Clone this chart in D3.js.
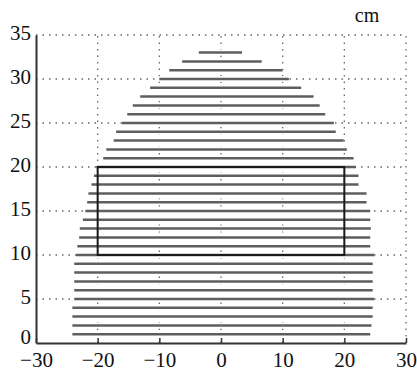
<!DOCTYPE html>
<html>
<head>
<meta charset="utf-8">
<script src="https://cdn.jsdelivr.net/npm/d3@7"></script>
<style>
  body { margin: 0; background: #fff; }
  svg { display: block; }
  svg text { font-family: "Liberation Serif", "Times New Roman", "DejaVu Serif", serif; }
</style>
</head>
<body>
<div id="chart"></div>
<script>
// row heights (cm) of the scan lines
const rows = [1, 2, 3, 4, 5, 6, 7, 8, 9, 10, 11, 12, 13, 14, 15, 16, 17,
  18, 19, 20, 21, 22, 23, 24, 25, 26, 27, 28, 29, 30, 31, 32, 33];
// left and right ends of each row (cm)
const leftEnds = [-24.1, -24.1, -24.1, -24.1, -23.8, -23.8, -23.8, -23.8, -23.8, -23.5,
  -23.3, -23.0, -22.9, -22.4, -22.0, -21.7, -21.5, -21.0, -20.6, -20.2, -19.1, -18.6,
  -17.4, -17.0, -16.1, -15.2, -14.3, -13.1, -11.5, -10.0, -8.4, -6.3, -3.6];
const rightEnds = [24.2, 24.4, 24.6, 24.6, 24.9, 24.6, 24.6, 24.6, 24.6, 24.9,
  24.2, 24.2, 24.3, 24.2, 24.2, 23.6, 23.6, 22.3, 22.3, 21.9, 21.5, 20.4,
  19.9, 18.6, 18.3, 16.9, 16.0, 15.0, 13.0, 11.0, 10.0, 6.6, 3.4];
// rectangle corners (cm)
const boxX = [-20, 20];
const boxY = [10, 20];
const xTicks = [-30, -20, -10, 0, 10, 20, 30];
const yTicks = [0, 5, 10, 15, 20, 25, 30, 35];
const unitLabel = "cm";

const width = 417, height = 372;
const margin = {top: 35, right: 11, bottom: 29, left: 36};
const serif = "'Liberation Serif', 'Times New Roman', 'DejaVu Serif', serif";

const svg = d3.select("#chart").append("svg")
  .attr("width", width)
  .attr("height", height)
  .attr("font-family", serif);

const x = d3.scaleLinear().domain([-30, 30]).range([margin.left, width - margin.right]);
const y = d3.scaleLinear().domain([0, 35]).range([height - margin.bottom, margin.top]);

const dotted = "1.5,5";
const gridColor = "#666";

// dotted grid
svg.append("g")
  .selectAll("line.vgrid")
  .data(xTicks.filter(d => d > -30))
  .enter()
  .append("line")
  .attr("x1", d => x(d)).attr("x2", d => x(d))
  .attr("y1", y(0)).attr("y2", y(35))
  .attr("stroke", gridColor)
  .attr("stroke-width", 1.3)
  .attr("stroke-dasharray", dotted);

svg.append("g")
  .selectAll("line.hgrid")
  .data(yTicks.filter(d => d > 0))
  .enter()
  .append("line")
  .attr("x1", x(-30)).attr("x2", x(30))
  .attr("y1", d => y(d)).attr("y2", d => y(d))
  .attr("stroke", gridColor)
  .attr("stroke-width", 1.3)
  .attr("stroke-dasharray", dotted);

// white mask behind rows so grid does not show through
svg.append("g")
  .selectAll("line")
  .data(rows)
  .enter()
  .append("line")
  .attr("x1", (d, i) => x(leftEnds[i]))
  .attr("x2", (d, i) => x(rightEnds[i]))
  .attr("y1", d => y(d)).attr("y2", d => y(d))
  .attr("stroke", "#fff")
  .attr("stroke-width", 6);

// scan rows
svg.append("g")
  .selectAll("line")
  .data(rows)
  .enter()
  .append("line")
  .attr("x1", (d, i) => x(leftEnds[i]))
  .attr("x2", (d, i) => x(rightEnds[i]))
  .attr("y1", d => y(d)).attr("y2", d => y(d))
  .attr("stroke", "#5e5e5e")
  .attr("stroke-width", 2.5);

// rectangle
svg.append("rect")
  .attr("x", x(boxX[0]))
  .attr("y", y(boxY[1]))
  .attr("width", x(boxX[1]) - x(boxX[0]))
  .attr("height", y(boxY[0]) - y(boxY[1]))
  .attr("fill", "none")
  .attr("stroke", "#1a1a1a")
  .attr("stroke-width", 2);

// axes
const fmt = d => d < 0 ? "\u2212" + Math.abs(d) : String(d);

const xAxis = svg.append("g")
  .attr("transform", "translate(0," + y(0) + ")")
  .call(d3.axisBottom(x).tickValues(xTicks).tickSize(-5).tickSizeOuter(0).tickFormat(fmt));

const yAxis = svg.append("g")
  .attr("transform", "translate(" + x(-30) + ",0)")
  .call(d3.axisLeft(y).tickValues(yTicks).tickSize(0).tickSizeOuter(0).tickFormat(fmt));

[xAxis, yAxis].forEach(g => {
  g.attr("font-family", serif).attr("font-size", 21);
  g.select(".domain").attr("stroke", "#333").attr("stroke-width", 2);
  g.selectAll(".tick line").attr("stroke", "#333").attr("stroke-width", 1.5);
  g.selectAll("text").attr("fill", "#111");
});
xAxis.selectAll("text").attr("y", 9).attr("dy", "0.71em");
// the 0 label sits a touch higher so it clears the -30 below it
yAxis.selectAll("text").attr("x", -5).attr("dy", d => d === 0 ? "0em" : "0.22em");

svg.append("text")
  .attr("x", 367)
  .attr("y", 22)
  .attr("text-anchor", "middle")
  .attr("font-size", 20)
  .attr("fill", "#111")
  .text(unitLabel);
</script>
</body>
</html>
